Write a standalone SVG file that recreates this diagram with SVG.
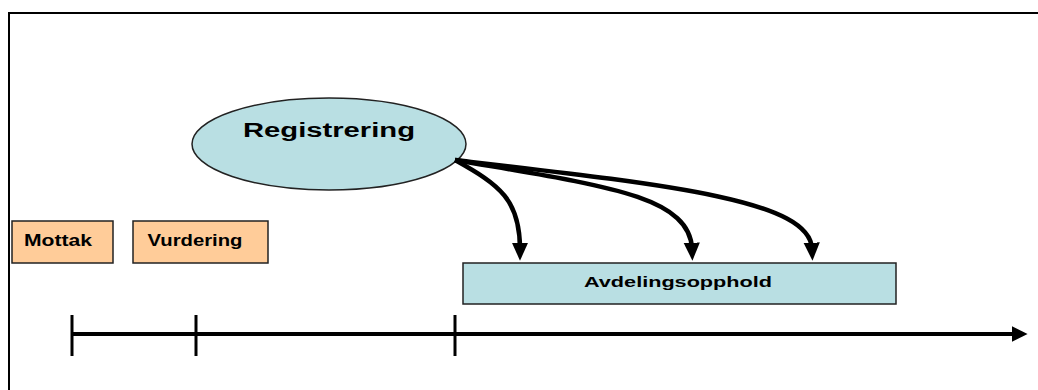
<svg xmlns="http://www.w3.org/2000/svg" width="1038" height="390" viewBox="0 0 1038 390">
<style>
.orange{fill:#FFCC99;stroke:#222;stroke-width:1.5}
.blue{fill:#B9DFE3;stroke:#222;stroke-width:1.5}
.lbl{font-family:"Liberation Sans",Arial,sans-serif;font-weight:bold;fill:#000}
.conn{fill:none;stroke:#000;stroke-width:4.5}
.tick{stroke:#000;stroke-width:3}
</style>
<defs>
<marker id="ah" markerWidth="4" markerHeight="4" refX="1.6" refY="2" orient="auto" markerUnits="strokeWidth">
<path d="M0,0 L4,2 L0,4 Z" fill="#000"/>
</marker>
<marker id="ah2" markerWidth="4" markerHeight="4" refX="1.4" refY="2" orient="auto" markerUnits="strokeWidth">
<path d="M0,0.2 L4,2 L0,3.8 Z" fill="#000"/>
</marker>
</defs>
<rect width="1038" height="390" fill="#fff"/>
<g id="frame">
<path d="M9,390 V13 H1038" fill="none" stroke="#000" stroke-width="2"/>
</g>
<g id="timeline">
<line x1="72" y1="334" x2="1018" y2="334" stroke="#000" stroke-width="4" marker-end="url(#ah)"/>
<line class="tick" x1="72" y1="315" x2="72" y2="356"/>
<line class="tick" x1="196" y1="315" x2="196" y2="356"/>
<line class="tick" x1="455" y1="315" x2="455" y2="356"/>
</g>
<g id="mottak">
<rect class="orange" x="12" y="221" width="101" height="42"/>
<text class="lbl" x="58" y="246" font-size="16" text-anchor="middle" textLength="68" lengthAdjust="spacingAndGlyphs">Mottak</text>
</g>
<g id="vurdering">
<rect class="orange" x="133" y="221" width="135" height="42"/>
<text class="lbl" x="195" y="246" font-size="16" text-anchor="middle" textLength="95" lengthAdjust="spacingAndGlyphs">Vurdering</text>
</g>
<g id="registrering">
<ellipse class="blue" cx="329" cy="144" rx="137" ry="46"/>
<text class="lbl" x="329" y="137" font-size="20" text-anchor="middle" textLength="172" lengthAdjust="spacingAndGlyphs">Registrering</text>
</g>
<g id="avdelingsopphold">
<rect class="blue" x="463" y="263" width="433" height="41"/>
<text class="lbl" x="678" y="287" font-size="15" text-anchor="middle" textLength="188" lengthAdjust="spacingAndGlyphs">Avdelingsopphold</text>
</g>
<g id="connectors">
<path class="conn" d="M455,160 C500,185 520,200 520,249" marker-end="url(#ah2)"/>
<path class="conn" d="M455,160 C600,185 690,195 692,249" marker-end="url(#ah2)"/>
<path class="conn" d="M455,160 C670,185 810,200 812,249" marker-end="url(#ah2)"/>
</g>
</svg>
